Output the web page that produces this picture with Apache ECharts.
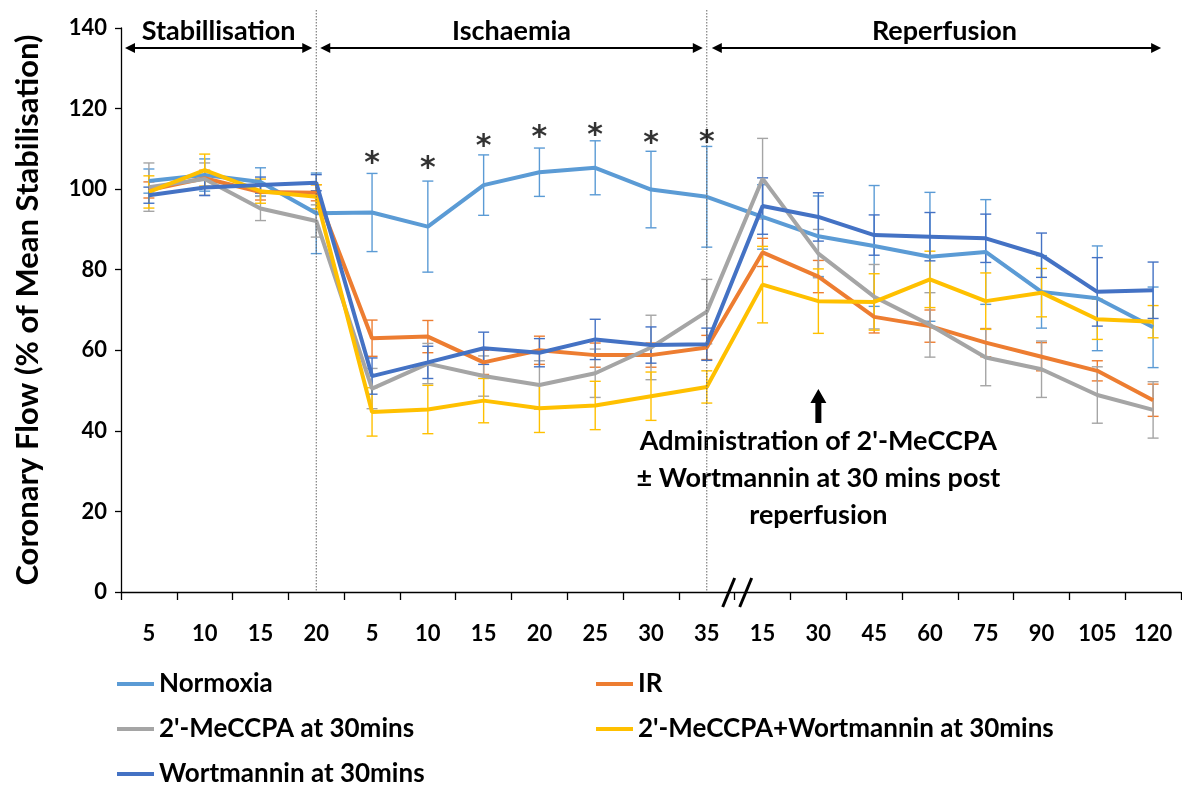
<!DOCTYPE html>
<html><head><meta charset="utf-8">
<script src="https://cdn.jsdelivr.net/npm/echarts@6/dist/echarts.min.js"></script>
<style>html,body{margin:0;padding:0;background:#fff}#c{width:1182px;height:787px}</style>
</head><body><div id="c"></div>
<script>
const categories = ['5','10','15','20','5','10','15','20','25','30','35','15','30','45','60','75','90','105','120'];
const seriesNames = ['Normoxia','IR',"2'-MeCCPA at 30mins","2'-MeCCPA+Wortmannin at 30mins",'Wortmannin at 30mins'];
const normoxia = [102, 103.5, 101.8, 94, 94.2, 90.7, 101, 104.2, 105.3, 99.9, 98.1, 93.1, 88.3, 85.9, 83.2, 84.4, 74.5, 72.9, 65.7];
const ir       = [99.8, 102.7, 99.3, 99.1, 63, 63.4, 57, 60, 58.8, 58.8, 60.7, 84.3, 78.3, 68.3, 66, 61.9, 58.4, 54.9, 47.6];
const mecpa    = [100.5, 102.5, 95.2, 92.1, 50.5, 56.7, 53.6, 51.4, 54.3, 60.7, 69.6, 102.6, 84, 73.3, 66.3, 58.2, 55.3, 48.9, 45.2];
const mecpaWort= [99.3, 104.7, 99.5, 98.1, 44.7, 45.3, 47.5, 45.6, 46.3, 48.6, 50.9, 76.3, 72.2, 72, 77.6, 72.2, 74.3, 67.7, 67.1];
const wort     = [98.5, 100.4, 101, 101.6, 53.6, 57, 60.5, 59.4, 62.7, 61.3, 61.5, 95.8, 93.1, 88.6, 88.2, 87.8, 83.6, 74.5, 74.9];
const normoxiaErr = [3, 4, 3.5, 10, 9.7, 11.3, 7.5, 6, 6.7, 9.5, 12.5, 8, 10, 15, 16, 13, 9, 13, 10];
const irErr       = [2, 2, 2, 2, 4.5, 4, 3, 3.5, 3, 3, 3, 3.5, 4, 4, 4, 3.5, 3.5, 2.5, 4];
const mecpaErr    = [6, 4, 3, 4, 5, 5, 5, 6, 6, 8, 8, 10, 6, 8, 8, 7, 7, 7, 7];
const mecpaWortErr= [4, 4, 3, 3, 6, 6, 5.5, 6, 6, 6, 4, 9.5, 8, 7, 7, 7, 6, 5, 4];
const wortErr     = [2, 2, 2, 2, 4.5, 4, 4, 3.5, 5, 4.5, 4, 7, 6, 5, 6, 6, 5.5, 8.5, 7];
const starIdx = [4, 5, 6, 7, 8, 9, 10];
const starY   = [107.6, 106.4, 112, 114.2, 114.7, 112.6, 113];
const yTicks = [0, 20, 40, 60, 80, 100, 120, 140];
const phases = ['Stabillisation', 'Ischaemia', 'Reperfusion'];
const annotation = "Administration of 2'-MeCCPA\n± Wortmannin at 30 mins post\nreperfusion";

const colors = ['#5B9BD5','#ED7D31','#A5A5A5','#FFC000','#4472C4'];
const FONT = 'Lato';
const values = [normoxia, ir, mecpa, mecpaWort, wort];
const errs = [normoxiaErr, irErr, mecpaErr, mecpaWortErr, wortErr];

const chart = echarts.init(document.getElementById('c'));
const series = [];
values.forEach((vals, s) => {
  series.push({
    type: 'custom', name: seriesNames[s], silent: true, z: 1,
    data: vals.map((v, i) => [i, v - errs[s][i], v + errs[s][i]]),
    itemStyle: { color: colors[s] },
    renderItem: (params, api) => {
      const lo = api.coord([api.value(0), api.value(1)]);
      const hi = api.coord([api.value(0), api.value(2)]);
      const w = 5.5;
      const st = { stroke: colors[s], lineWidth: 1.4 };
      return { type: 'group', children: [
        { type: 'line', shape: { x1: hi[0], y1: hi[1], x2: lo[0], y2: lo[1] }, style: st },
        { type: 'line', shape: { x1: hi[0]-w, y1: hi[1], x2: hi[0]+w, y2: hi[1] }, style: st },
        { type: 'line', shape: { x1: lo[0]-w, y1: lo[1], x2: lo[0]+w, y2: lo[1] }, style: st }
      ]};
    }
  });
});
values.forEach((vals, s) => {
  series.push({
    type: 'line', name: seriesNames[s], data: vals, symbol: 'none', z: 2,
    lineStyle: { color: colors[s], width: 4 }, itemStyle: { color: colors[s] }
  });
});
series.push({
  type: 'scatter', silent: true, symbolSize: 0, z: 5,
  data: starIdx.map((i, k) => [i, starY[k]]),
  label: { show: true, formatter: '*', position: 'inside', offset: [0, 6],
           fontFamily: 'DejaVu Sans', fontWeight: 'bold', fontSize: 30, color: '#000' }
});

const legendText = { fontFamily: FONT, fontWeight: 'bold', fontSize: 26, color: '#000' };
// legend layout: [series index, left, top]
const legendSlots = [[0, 117, 671], [1, 596, 671], [2, 117, 716], [3, 596, 716], [4, 117, 761]];
const legends = legendSlots.map(([s, l, t]) => ({
  data: [seriesNames[s]], orient: 'horizontal', left: l, top: t, padding: 0,
  itemWidth: 37, itemHeight: 4, icon: 'rect', selectedMode: false, textStyle: legendText
}));

const option = {
  animation: false,
  grid: { left: 121, right: 1, top: 28, bottom: 195 },
  xAxis: {
    type: 'category', data: categories, boundaryGap: true,
    axisLine: { lineStyle: { color: '#000', width: 1.3 } },
    axisTick: { show: true, length: 8, lineStyle: { color: '#000', width: 1.3 } },
    axisLabel: { interval: 0, margin: 31, fontFamily: FONT, fontWeight: 'bold', fontSize: 22, color: '#000' },
    splitLine: { show: false }
  },
  yAxis: {
    type: 'value', min: yTicks[0], max: yTicks[yTicks.length-1], interval: 20,
    name: 'Coronary Flow (% of Mean Stabilisation)', nameLocation: 'middle', nameGap: 78, nameRotate: 90,
    nameTextStyle: { fontFamily: FONT, fontWeight: 'bold', fontSize: 31, color: '#000' },
    axisLine: { show: true, lineStyle: { color: '#000', width: 1.3 } },
    axisTick: { show: true, length: 6, lineStyle: { color: '#000', width: 1.3 } },
    axisLabel: { margin: 14, fontFamily: FONT, fontWeight: 'bold', fontSize: 22, color: '#000' },
    splitLine: { show: false }
  },
  legend: legends,
  series: series
};
chart.setOption(option);

const P = (i, v) => chart.convertToPixel({ xAxisIndex: 0, yAxisIndex: 0 }, [i, v]);
const yAxisPx = P(0, 0)[1];
const d1 = P(3, 0)[0], d2 = P(10, 0)[0];
const lastX = P(categories.length - 1, 0)[0];
const gridLeft = 121;
function dArrow(x1, x2, y) {
  const h = 10, w = 5;
  return [
    { type: 'line', shape: { x1: x1 + 4, y1: y, x2: x2 - 4, y2: y }, style: { stroke: '#000', lineWidth: 2 } },
    { type: 'polygon', shape: { points: [[x1, y], [x1 + h, y - w], [x1 + h, y + w]] }, style: { fill: '#000' } },
    { type: 'polygon', shape: { points: [[x2, y], [x2 - h, y - w], [x2 - h, y + w]] }, style: { fill: '#000' } }
  ];
}
const hy = 48, ty = 31;
const segs = [[gridLeft + 4, d1 - 4], [d1 + 4, d2 - 4], [d2 + 5, lastX + 8]];
const textOffsets = [0, 0, 8];
const g = [];
[d1, d2].forEach(x => g.push({ type: 'line', z: 3, shape: { x1: x, y1: 10, x2: x, y2: yAxisPx },
  style: { stroke: '#666', lineWidth: 1, lineDash: [1.5, 1.5] } }));
segs.forEach((sg, k) => {
  g.push(...dArrow(sg[0], sg[1], hy));
  g.push({ type: 'text', style: { text: phases[k], x: (sg[0] + sg[1]) / 2 + textOffsets[k], y: ty,
    textAlign: 'center', textVerticalAlign: 'middle', fontFamily: FONT, fontWeight: 'bold', fontSize: 27, fill: '#000' } });
});
// axis break marks
const bx = (P(10, 0)[0] + P(11, 0)[0]) / 2;
g.push({ type: 'line', shape: { x1: bx, y1: yAxisPx - 14, x2: bx - 12, y2: yAxisPx + 15 }, style: { stroke: '#000', lineWidth: 3 } });
g.push({ type: 'line', shape: { x1: bx + 17, y1: yAxisPx - 14, x2: bx + 5, y2: yAxisPx + 15 }, style: { stroke: '#000', lineWidth: 3 } });
// annotation arrow + text
const ax = P(12, 0)[0];
g.push({ type: 'polygon', shape: { points: [[ax, 389], [ax - 8, 403], [ax - 3, 403], [ax - 3, 423], [ax + 3, 423], [ax + 3, 403], [ax + 8, 403]] }, style: { fill: '#000' } });
g.push({ type: 'text', style: { text: annotation, x: ax, y: 478, textAlign: 'center', textVerticalAlign: 'middle',
  fontFamily: FONT, fontWeight: 'bold', fontSize: 27, lineHeight: 37, fill: '#000' } });
chart.setOption({ graphic: { elements: g } });
</script></body></html>
